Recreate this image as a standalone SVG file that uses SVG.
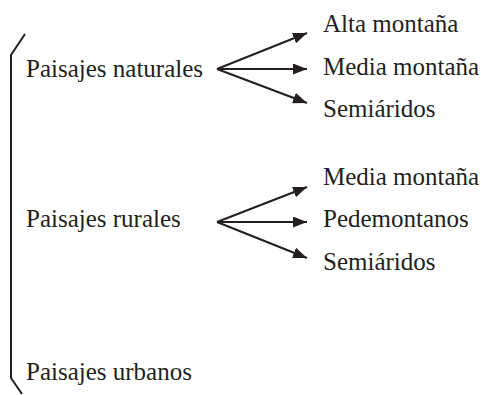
<svg xmlns="http://www.w3.org/2000/svg" width="481" height="395" viewBox="0 0 481 395">
<style>
text{font-family:"Liberation Serif","Times New Roman",serif;font-size:25px;fill:#231f20}
.c{stroke:#231f20;stroke-width:2;fill:none}
</style>
<defs>
<marker id="ah" viewBox="0 0 14 11" refX="14" refY="5.5" markerWidth="14" markerHeight="11" markerUnits="userSpaceOnUse" orient="auto"><path d="M0,0L14,5.5L0,11z" fill="#231f20"/></marker>
</defs>
<rect width="481" height="395" fill="#fff"/>
<g id="connectors">
<path class="c" d="M25,34L11,55L11,378L22,394"/>
<path class="c" d="M217,69L307,33" marker-end="url(#ah)"/>
<path class="c" d="M217,69L307,69" marker-end="url(#ah)"/>
<path class="c" d="M217,69L307,103" marker-end="url(#ah)"/>
<path class="c" d="M217,222L307,187" marker-end="url(#ah)"/>
<path class="c" d="M217,222L307,222" marker-end="url(#ah)"/>
<path class="c" d="M217,222L307,258" marker-end="url(#ah)"/>
</g>
<g id="n-naturales"><text x="26" y="77">Paisajes naturales</text></g>
<g id="n-rurales"><text x="26" y="227">Paisajes rurales</text></g>
<g id="n-urbanos"><text x="26" y="380">Paisajes urbanos</text></g>
<g id="n-alta"><text x="323" y="32">Alta montaña</text></g>
<g id="n-media1"><text x="323" y="75">Media montaña</text></g>
<g id="n-semi1"><text x="323" y="117">Semiáridos</text></g>
<g id="n-media2"><text x="323" y="185">Media montaña</text></g>
<g id="n-pede"><text x="323" y="227">Pedemontanos</text></g>
<g id="n-semi2"><text x="323" y="270">Semiáridos</text></g>
</svg>
